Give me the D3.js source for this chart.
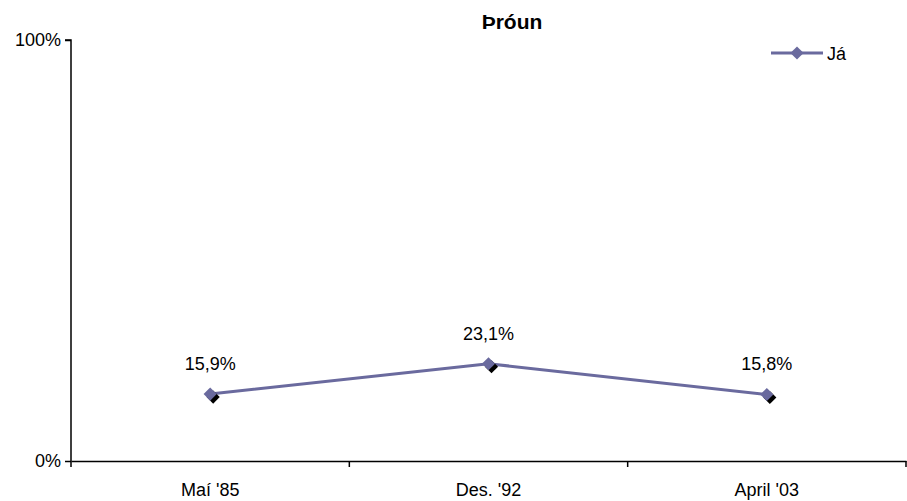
<!DOCTYPE html>
<html><head><meta charset="utf-8">
<script src="https://cdn.jsdelivr.net/npm/d3@7/dist/d3.min.js"></script>
<style>body{margin:0;background:#fff}svg{display:block}text{font-family:"Liberation Sans",Arial,sans-serif}</style>
</head><body><svg id="c" width="907" height="501"></svg>
<script>
const categories = ["Maí '85", "Des. '92", "April '03"];
const values = [15.9, 23.1, 15.8];
const labels = ["15,9%", "23,1%", "15,8%"];
const yTicks = [0, 100];
const seriesName = "Já";
const title = "Þróun";

const svg = d3.select("#c");
const m = {l:71, r:906, t:40, b:461};
const color = "#6a6a9e";
const fs = 18;
const x = d3.scaleBand().domain(categories).range([m.l, m.r]);
const y = d3.scaleLinear().domain([0,100]).range([m.b, m.t]);

const yAxis = svg.append("g").attr("transform",`translate(${m.l},0)`)
  .call(d3.axisLeft(y).tickValues(yTicks).tickFormat(d=>d+"%").tickSize(6).tickPadding(4));
const xAxis = svg.append("g").attr("transform",`translate(0,${m.b})`)
  .call(d3.axisBottom(x).tickSize(0).tickPadding(22));
[yAxis, xAxis].forEach(g=>{
  g.select(".domain").attr("stroke","#000").attr("stroke-width",1.5);
  g.selectAll("text").attr("font-size",fs).attr("fill","#000").attr("font-family","Liberation Sans, Arial, sans-serif");
});
yAxis.select(".domain").attr("d",`M-6,${m.t}H0V${m.b}`);
yAxis.selectAll(".tick line").attr("stroke-width",1.5);
xAxis.selectAll(".tick line").remove();
const bounds = categories.map(c=>x(c)).concat([m.r]);
svg.append("g").selectAll("line").data(bounds).join("line")
  .attr("x1",d=>d).attr("x2",d=>d).attr("y1",m.b).attr("y2",m.b+6)
  .attr("stroke","#000").attr("stroke-width",1.5);

const cx = d => x(d) + x.bandwidth()/2;
const pts = categories.map((c,i)=>({c, v:values[i], l:labels[i]}));

svg.append("path").datum(pts)
  .attr("d", d3.line().x(d=>cx(d.c)).y(d=>y(d.v)))
  .attr("fill","none").attr("stroke",color).attr("stroke-width",3);

const diamond = d3.symbol().type(d3.symbolDiamond2).size(110);
svg.append("g").selectAll("path").data(pts).join("path")
  .attr("d", diamond).attr("transform",d=>`translate(${cx(d.c)+3},${y(d.v)+3})`)
  .attr("fill","#000");
svg.append("g").selectAll("path").data(pts).join("path")
  .attr("d", diamond).attr("transform",d=>`translate(${cx(d.c)},${y(d.v)})`)
  .attr("fill",color);

svg.append("g").selectAll("text").data(pts).join("text")
  .attr("x",d=>cx(d.c)).attr("y",d=>y(d.v)-24)
  .attr("text-anchor","middle").attr("font-size",fs).text(d=>d.l);

svg.append("text").attr("x",512).attr("y",29).attr("text-anchor","middle")
  .attr("font-size",21).attr("font-weight","bold").text(title);

const lg = svg.append("g").attr("transform","translate(771,53)");
lg.append("line").attr("x1",0).attr("x2",52).attr("y1",0).attr("y2",0).attr("stroke",color).attr("stroke-width",3);
lg.append("path").attr("d",diamond).attr("transform","translate(26,0)").attr("fill",color);
lg.append("text").attr("x",56).attr("y",7).attr("font-size",fs).text(seriesName);
</script></body></html>
